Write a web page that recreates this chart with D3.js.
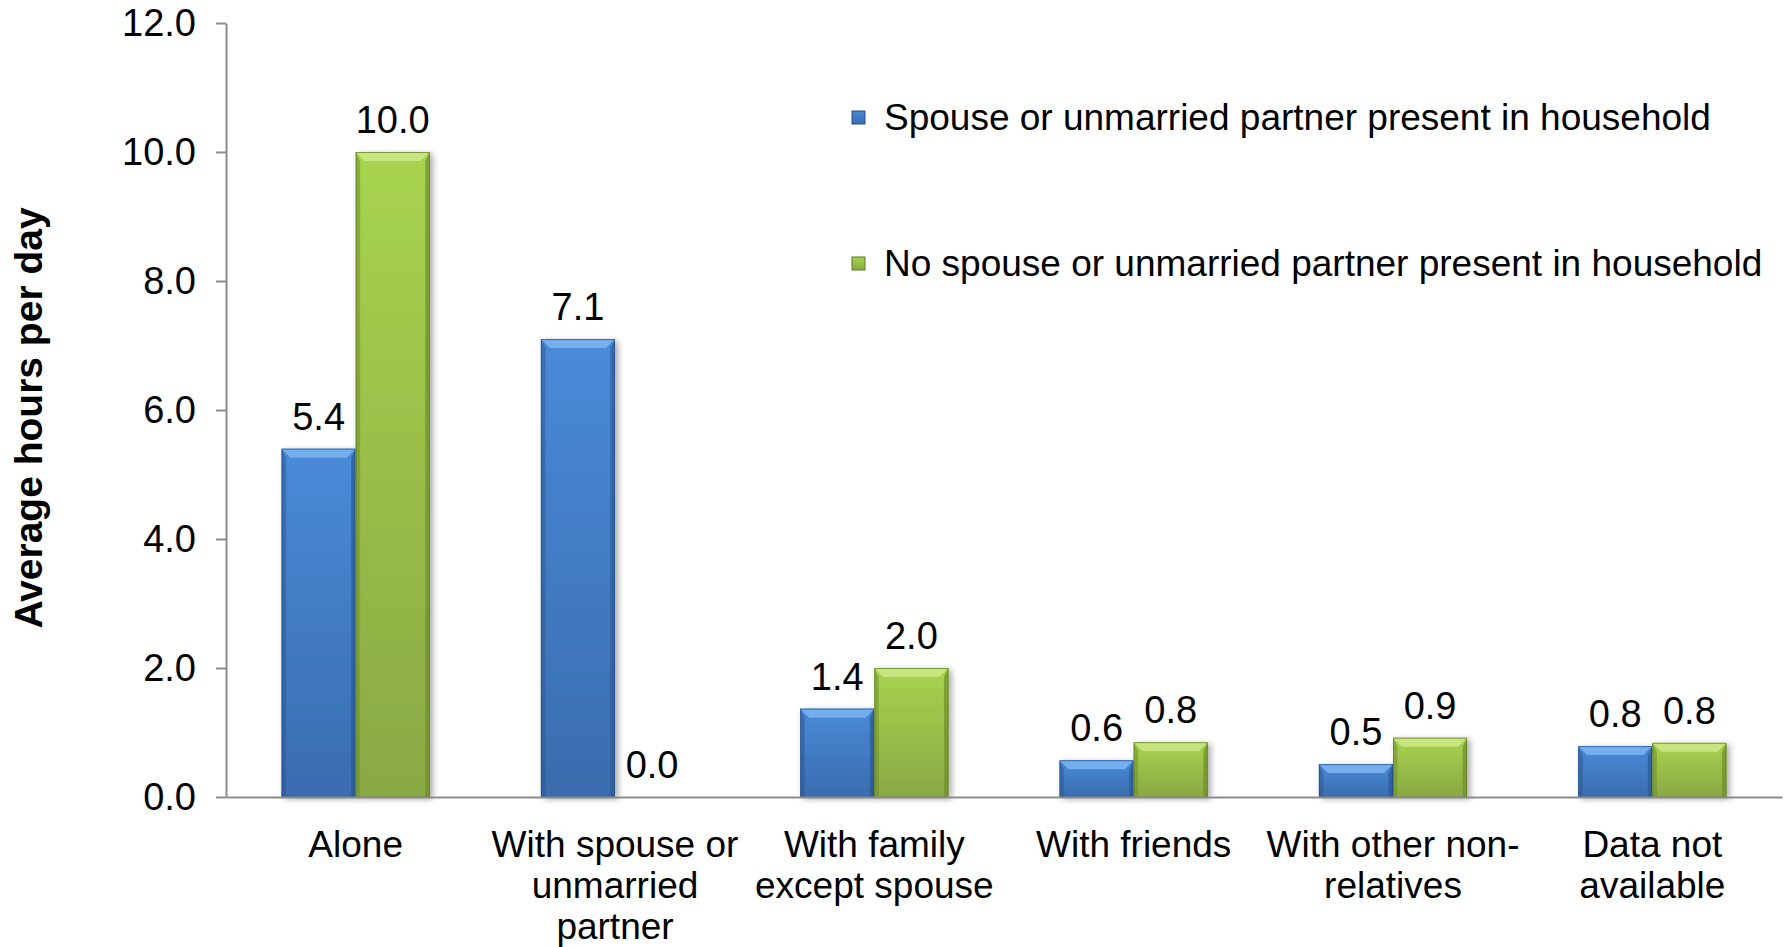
<!DOCTYPE html>
<html>
<head>
<meta charset="utf-8">
<script src="https://cdn.jsdelivr.net/npm/d3@7"></script>
<style>
  html, body { margin: 0; padding: 0; background: #fff; }
  svg { display: block; font-family: "Liberation Sans", Arial, sans-serif; }
</style>
</head>
<body>
<div id="chart"></div>
<script>
// categories (line breaks as in the original axis labels)
const categories = [
  "Alone",
  "With spouse or\nunmarried\npartner",
  "With family\nexcept spouse",
  "With friends",
  "With other non-\nrelatives",
  "Data not\navailable"
];
const seriesNames = [
  "Spouse or unmarried partner present in household",
  "No spouse or unmarried partner present in household"
];
// average hours per day
const partnerPresent = [5.4, 7.1, 1.37, 0.57, 0.51, 0.79];
const noPartner = [10.0, 0.0, 2.0, 0.85, 0.92, 0.84];
const yTicks = [0, 2, 4, 6, 8, 10, 12];

const width = 1789, height = 947;
const plot = { left: 226, right: 1782, top: 23, bottom: 797 };

const palette = [
  { top: "#4a8ad8", bottom: "#3a6cae", bevel: "#7ab2f0", edge: "#2c5a94", dark: "#24508a" },
  { top: "#a8d34f", bottom: "#89a944", bevel: "#cbe785", edge: "#6f8e2c", dark: "#5c7a22" }
];

const svg = d3.select("#chart").append("svg")
  .attr("width", width)
  .attr("height", height);

const defs = svg.append("defs");
palette.forEach((c, i) => {
  const g = defs.append("linearGradient")
    .attr("id", "grad" + i)
    .attr("x1", 0).attr("y1", 0).attr("x2", 0).attr("y2", 1);
  g.append("stop").attr("offset", "0%").attr("stop-color", c.top);
  g.append("stop").attr("offset", "100%").attr("stop-color", c.bottom);
});
const shadow = defs.append("filter").attr("id", "shadow")
  .attr("x", "-20%").attr("y", "-20%").attr("width", "150%").attr("height", "140%");
shadow.append("feDropShadow")
  .attr("dx", 3).attr("dy", 2).attr("stdDeviation", 3)
  .attr("flood-color", "#000").attr("flood-opacity", 0.35);

const x = d3.scaleBand()
  .domain(categories)
  .range([plot.left, plot.right])
  .padding(0);

// gap width 150% of a bar -> outer padding 0.75 on each side
const xs = d3.scaleBand()
  .domain([0, 1])
  .range([0, x.bandwidth()])
  .paddingInner(0)
  .paddingOuter(0.75);

const y = d3.scaleLinear()
  .domain([0, 12])
  .range([plot.bottom, plot.top]);

// y axis
const yAxis = svg.append("g")
  .attr("transform", `translate(${plot.left},0)`)
  .call(d3.axisLeft(y)
    .tickValues(yTicks)
    .tickFormat(d3.format(".1f"))
    .tickSize(10)
    .tickSizeOuter(0)
    .tickPadding(20));
yAxis.select(".domain").attr("stroke", "#8c8c8c").attr("stroke-width", 2);
yAxis.selectAll(".tick line").attr("stroke", "#8c8c8c").attr("stroke-width", 2);
yAxis.selectAll(".tick text")
  .attr("font-size", 38)
  .attr("fill", "#000")
  .attr("font-family", "Liberation Sans, Arial, sans-serif");

svg.append("text")
  .attr("transform", "translate(42,418) rotate(-90)")
  .attr("text-anchor", "middle")
  .attr("font-size", 39)
  .attr("font-weight", "bold")
  .text("Average hours per day");

// bars
const data = categories.map((c, i) => ({
  cat: c,
  values: [partnerPresent[i], noPartner[i]]
}));

const groups = svg.append("g").selectAll("g")
  .data(data)
  .join("g")
  .attr("transform", d => `translate(${x(d.cat)},0)`);

const bars = groups.selectAll("g.bar")
  .data(d => d.values.map((v, s) => ({ v, s })))
  .join("g")
  .attr("class", "bar");

bars.each(function(d) {
  if (d.v <= 0) return;
  const g = d3.select(this);
  const c = palette[d.s];
  const x0 = xs(d.s), w = xs.bandwidth();
  const y0 = y(d.v), h = y(0) - y(d.v);
  const bv = Math.min(9, h / 2);
  g.append("rect")
    .attr("x", x0).attr("y", y0).attr("width", w).attr("height", h)
    .attr("fill", `url(#grad${d.s})`)
    .attr("filter", "url(#shadow)");
  // top bevel
  g.append("path")
    .attr("d", `M${x0},${y0}L${x0 + w},${y0}L${x0 + w - bv},${y0 + bv}L${x0 + bv},${y0 + bv}Z`)
    .attr("fill", c.bevel).attr("opacity", 0.9);
  // left & right edges
  g.append("path")
    .attr("d", `M${x0},${y0}L${x0 + bv * 0.5},${y0 + bv}L${x0 + bv * 0.5},${y0 + h}L${x0},${y0 + h}Z`)
    .attr("fill", c.edge).attr("opacity", 0.55);
  g.append("path")
    .attr("d", `M${x0 + w},${y0}L${x0 + w - bv * 0.5},${y0 + bv}L${x0 + w - bv * 0.5},${y0 + h}L${x0 + w},${y0 + h}Z`)
    .attr("fill", c.edge).attr("opacity", 0.7);
  g.append("rect")
    .attr("x", x0 + 0.5).attr("y", y0 + 0.5).attr("width", w - 1).attr("height", h - 0.5)
    .attr("fill", "none").attr("stroke", c.dark).attr("stroke-width", 1).attr("opacity", 0.7);
});

// value labels
bars.append("text")
  .attr("x", d => xs(d.s) + xs.bandwidth() / 2)
  .attr("y", d => y(d.v) - 19)
  .attr("text-anchor", "middle")
  .attr("font-size", 38)
  .text(d => d3.format(".1f")(d.v));

// x axis
const xAxis = svg.append("g")
  .attr("transform", `translate(0,${plot.bottom})`)
  .call(d3.axisBottom(x).tickSize(0).tickSizeOuter(0).tickFormat(""));
xAxis.select(".domain").attr("stroke", "#8c8c8c").attr("stroke-width", 2);

xAxis.selectAll(".tick").append("text")
  .attr("text-anchor", "middle")
  .attr("font-size", 37)
  .attr("fill", "#000")
  .each(function(d) {
    const t = d3.select(this);
    d.split("\n").forEach((line, i) => {
      t.append("tspan").attr("x", 0).attr("y", 60 + i * 41).text(line);
    });
  });

// legend
const legend = svg.append("g")
  .attr("transform", "translate(852,0)");
const legendItems = legend.selectAll("g")
  .data(seriesNames)
  .join("g")
  .attr("transform", (d, i) => `translate(0,${117 + i * 146})`);
legendItems.append("rect")
  .attr("x", 0).attr("y", -6).attr("width", 13).attr("height", 13)
  .attr("fill", (d, i) => `url(#grad${i})`)
  .attr("stroke", (d, i) => palette[i].dark).attr("stroke-width", 1);
legendItems.append("text")
  .attr("x", 32).attr("y", 13)
  .attr("font-size", 37)
  .text(d => d);
</script>
</body>
</html>
